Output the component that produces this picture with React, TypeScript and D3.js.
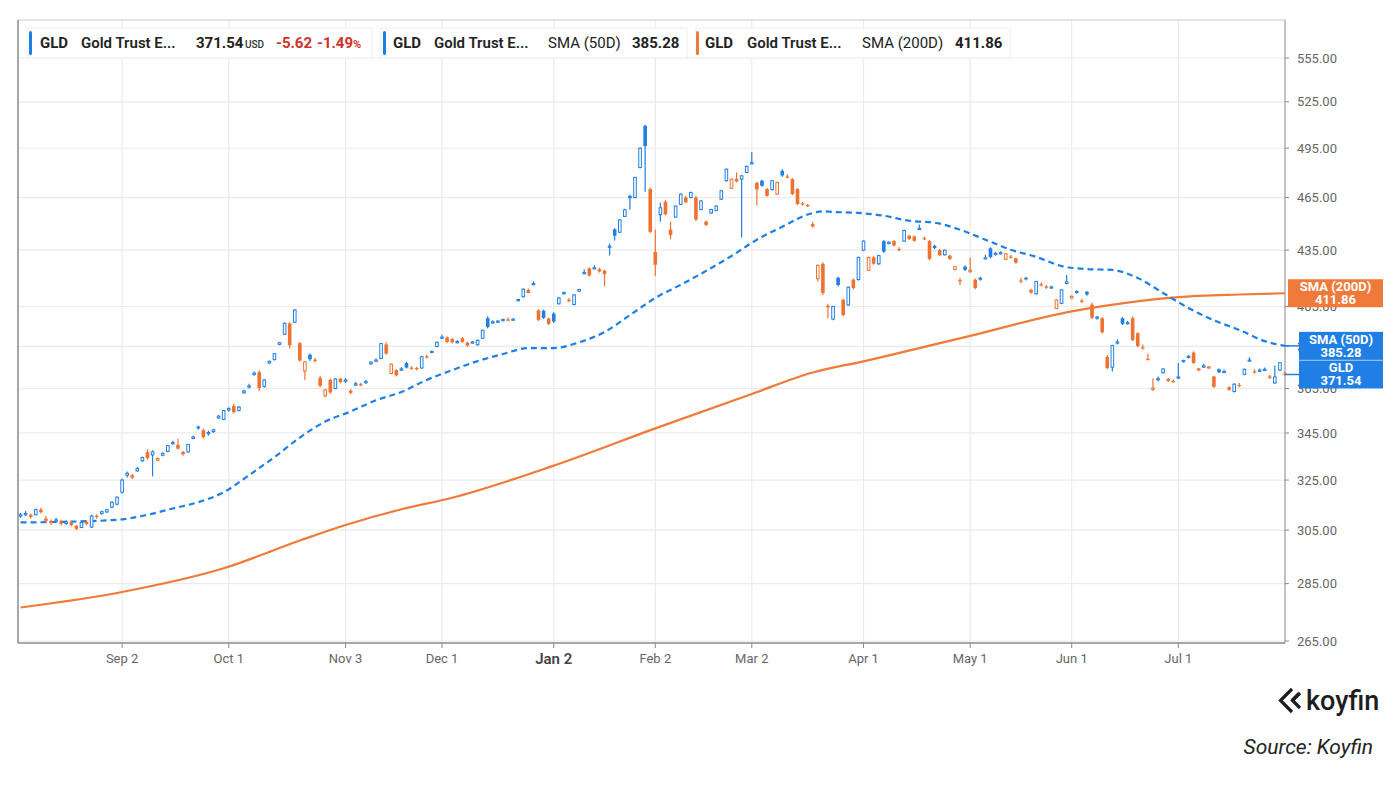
import * as d3 from "d3";

// plot frame (pixels)
const W = 1400;
const H = 791;
const left = 18;
const right = 1285;
const top = 20;
const bottom = 643;

const BLUE = "#1f7fe5";
const ORANGE = "#f0722f";
const SMA200_COLOR = "#f07a3a";
const RED = "#d0312d";

// US market holidays inside the window
const holidays = [
  "2025-09-01", "2025-11-27", "2025-12-25", "2026-01-01", "2026-01-19",
  "2026-02-16", "2026-04-03", "2026-05-25", "2026-06-19", "2026-07-03"
];

// daily candles [open, high, low, close], one array per month
const aug25 = [
  [310.5, 311.8, 309.8, 311], [311, 312.5, 310.5, 311.5], [311, 311.5, 309.5, 310.2],
  [311, 313.5, 310.8, 313], [313, 313.8, 311.5, 312], [309.5, 310.5, 307.8, 308.6],
  [308.6, 309.2, 307, 307.8], [308.5, 309.8, 307.8, 309], [308.5, 309, 306.8, 307.5],
  [307.6, 308.8, 307, 308.2], [308, 308.5, 306.5, 307], [306.7, 307, 305, 305.5],
  [306, 308.5, 305.8, 308], [308.2, 308.8, 307, 307.4], [306.2, 311, 305.8, 310.5],
  [310.6, 311.2, 309.4, 310.2], [311.5, 312.6, 311, 312.2], [312.1, 313.3, 311.8, 313],
  [314, 316.3, 313.6, 316], [315.2, 318.3, 314.8, 318]
];
const sep25 = [
  [320, 325.5, 319.5, 325], [327, 328.5, 326, 327.8], [327, 327.5, 325.4, 326],
  [328.8, 330.4, 328.4, 329.8], [333, 334.8, 332.6, 334.4], [336.7, 338, 333.5, 334.2],
  [335.5, 337.5, 326.5, 336.8], [333.2, 334.4, 332.8, 334], [335.4, 336.6, 335, 336.2],
  [337, 339.8, 336.8, 339.5], [340.4, 341.6, 340, 340.8], [339.8, 342.5, 337.8, 338.2],
  [336.8, 337.2, 335.2, 335.8], [336.8, 340.2, 336.5, 340], [342.6, 343.8, 342.2, 343.2],
  [347.8, 348.2, 346.4, 347], [346.2, 346.8, 342.6, 343.2], [344.8, 346, 343.8, 345.2],
  [345.6, 346.8, 345, 346.4], [351.6, 353, 351.2, 352.4], [351, 355.2, 350.6, 355]
];
const oct25 = [
  [355.2, 356.4, 354.4, 355.8], [357, 358, 353.6, 354.2], [355, 357, 354.5, 356.5],
  [363, 364.4, 362.6, 363.8], [365.8, 367.2, 365, 366.2], [371.6, 373, 371, 372.2],
  [372.6, 373.4, 364, 365.2], [366, 369.4, 365.4, 369], [377, 378.2, 376.6, 377.8],
  [378.6, 381.8, 378.2, 381.5], [386, 387.2, 385.6, 386.8], [391, 396.8, 390.6, 396.5],
  [396.4, 397, 384, 385.6], [397, 403.6, 396.6, 403.2], [386.6, 387.2, 377.6, 378.2],
  [373.2, 377.8, 369, 377.5], [381, 381.6, 378, 378.8], [378.6, 379.4, 377.4, 378],
  [370, 371, 365.6, 366.2], [361.6, 364.8, 361, 364.4], [369, 369.6, 362.6, 363.2],
  [365, 369.8, 364.6, 369.4], [369.6, 370, 367.4, 368]
];
const nov25 = [
  [368.4, 369.8, 367.6, 369], [364, 364.6, 362.4, 363], [366.6, 368, 366, 367.2],
  [367, 367.6, 366, 366.6], [367.8, 369, 367.2, 368.2], [376.6, 377.8, 376.2, 377.4],
  [378, 379.2, 377.6, 378.4], [379.2, 386.6, 378.8, 386.4], [386, 387, 381, 381.6],
  [372, 376.8, 371.6, 376.4], [373.6, 374, 370.6, 371.2], [373.6, 375, 373.2, 374.2],
  [377, 377.6, 374.4, 374.8], [374.8, 375.4, 373.8, 374.4], [374.6, 375.2, 373.6, 374.2],
  [374.6, 380.4, 374.2, 380], [380.2, 381, 379.2, 379.8], [382.2, 383, 381.8, 382.6],
  [385, 387.4, 384.6, 387]
];
const dec25 = [
  [389, 390.8, 388.6, 389.6], [389.4, 390, 386.6, 387.2], [388.6, 389.2, 386.4, 387],
  [387, 388.2, 386.4, 387.4], [389, 389.6, 386.8, 387.2], [386.8, 387.4, 384.8, 385.4],
  [386.8, 387.6, 386.4, 387.2], [385.8, 388.4, 385.4, 388], [389, 393.2, 388.6, 393],
  [399, 400, 394, 394.6], [396.6, 398, 396.2, 397.2], [397, 398, 396.6, 397.6],
  [397.8, 398.8, 397.4, 398.4], [398.4, 399.4, 397.4, 398], [398, 399, 397.6, 398.6],
  [408, 409, 407.6, 408.6], [410, 414.4, 409.6, 414], [413.6, 414.4, 411.8, 412],
  [416.6, 418.2, 416, 417], [403, 403.6, 397.6, 398.2], [402.8, 403.4, 398.6, 399.2],
  [398.8, 399.4, 395.6, 396.2]
];
const jan26 = [
  [401.4, 402, 396.6, 397.4], [406.4, 409.8, 406, 409.4], [411.6, 412.8, 411.2, 412.2],
  [408.4, 409.4, 407.2, 408], [406, 411.4, 405.6, 411], [413, 414.2, 412.6, 413.8],
  [422.4, 424.6, 422, 422.8], [425, 425.6, 420.6, 421.2], [425, 426.8, 424.6, 425.4],
  [424.6, 425.4, 422.8, 423.4], [423.8, 424.4, 415.6, 422], [436.6, 438.6, 432, 437.2],
  [446.6, 447.2, 440.4, 443], [445, 452.4, 444.6, 452], [454, 458.4, 453.6, 457.8],
  [466, 466.6, 458, 464.6], [465, 477.4, 464.6, 477], [483, 495.4, 482.6, 495],
  [509.2, 510, 468.4, 496.4], [470, 471, 444.6, 445.2]
];
const feb26 = [
  [434, 446.5, 421, 427], [455, 462, 451, 459], [462.5, 463.5, 454.6, 455.2],
  [446.5, 451, 441, 443.4], [453.6, 460.4, 453.2, 460], [461, 467.4, 460.6, 467],
  [465, 466, 461.6, 462.2], [465, 468.4, 464.6, 468], [465, 466, 451.4, 452.2],
  [458, 463.4, 457.6, 463], [451, 451.6, 448.4, 449.2], [456, 458.4, 455.6, 458],
  [457.5, 460.4, 457, 460], [464, 469.4, 463.6, 469], [475, 482.4, 474.6, 482],
  [470.5, 476.4, 470, 476], [476.2, 480, 474, 474.6], [476, 478.4, 442, 478],
  [480, 484.2, 479.6, 483.8]
];
const mar26 = [
  [485.6, 492.6, 485, 486], [473.7, 474.4, 460.4, 469.8], [475, 475.6, 471.4, 472],
  [470, 470.6, 465.4, 466], [469.7, 475.4, 469.2, 475], [467, 474.4, 466.6, 474],
  [481, 482, 477.4, 478.2], [477.6, 479, 476.4, 477], [476, 476.6, 466.4, 467],
  [470, 470.6, 460.6, 461.2], [461.6, 462.4, 460.4, 461], [460.6, 461.4, 459.4, 460],
  [449.6, 451, 447.6, 448.2], [419.5, 427, 418, 426.7], [427.5, 428.4, 411, 412],
  [405.4, 406.4, 399, 404.6], [398.6, 405.4, 398, 405], [420, 420.6, 415.4, 416.2],
  [408.5, 409, 400, 400.6], [405.8, 415.4, 405.4, 415], [419, 419.6, 414, 414.6],
  [419, 431.4, 418.6, 431]
];
const apr26 = [
  [435, 440.4, 434.6, 440], [424, 431.4, 423.6, 431], [431, 431.6, 427, 427.6],
  [427.5, 432.4, 427, 432], [440, 440.6, 433.4, 434.2], [438.6, 439.8, 438.2, 439.4],
  [440, 440.6, 437, 437.6], [435.6, 436.6, 434.4, 435.2], [440, 446.4, 439.6, 446],
  [443, 443.6, 440.6, 441.2], [442.6, 443.2, 439.6, 440.2], [446.8, 449.4, 446.4, 447.2],
  [441.6, 442.6, 440.6, 441.2], [440, 440.6, 429.4, 430.2], [437.4, 438, 435.6, 436.2],
  [435, 435.6, 431.6, 432.2], [432.4, 435.4, 432, 435], [432, 432.6, 429.6, 430.2],
  [424.4, 426.4, 424, 426], [418.8, 420, 416, 418.4], [426, 426.6, 423.6, 424.2]
];
const may26 = [
  [423.2, 431, 422.8, 424], [419, 419.6, 414, 414.6], [420, 420.6, 418.4, 419],
  [430.4, 432.4, 430, 430.8], [436, 436.6, 430.6, 431.2], [432.6, 434, 432, 433.2],
  [433.2, 434.4, 432.6, 433.6], [430, 433.4, 429.6, 433], [431.4, 432.4, 430.4, 431],
  [430.5, 431, 427.6, 428.2], [418.6, 420, 417, 418.2], [420, 420.6, 418.6, 419.2],
  [413.6, 414.2, 411.6, 412.2], [411.6, 418.4, 411.2, 418], [416.6, 417.6, 415.4, 416],
  [415.4, 416.2, 414.2, 414.8], [414.8, 415.8, 414.2, 415.2], [404, 408.8, 403.6, 408.4],
  [406.6, 414, 406.2, 413.6], [417, 421.5, 416.6, 417.8]
];
const jun26 = [
  [409.4, 410.8, 409, 410.2], [413, 413.4, 411.6, 412], [408, 409, 406.8, 407.6],
  [412.6, 413, 410.6, 411.2], [406, 407, 398.6, 399.2], [399, 400.2, 398.2, 399.6],
  [399, 399.6, 391.4, 392], [380, 380.8, 374, 374.6], [375, 385.8, 373, 385.4],
  [386.6, 388.4, 386, 387.2], [399, 399.6, 395.6, 396.2], [396.4, 397.6, 395.8, 396.8],
  [399, 400, 387.6, 388.2], [391.5, 392, 384.6, 385.2], [384.6, 386, 383.4, 384],
  [379, 381.4, 378.2, 378.6], [364.6, 369.6, 363.8, 365.2], [369.2, 370.6, 368.4, 369.6],
  [372.4, 374.4, 372, 374.2], [369.4, 370, 368, 368.6], [368.6, 369.2, 367.6, 368]
];
const jul26 = [
  [370, 377, 369.4, 370.4], [377.6, 378.6, 377.2, 378.2], [379.8, 380.8, 379.2, 380.2],
  [382, 382.6, 376.6, 377], [373.6, 374.6, 373.2, 374.2], [375.2, 376.6, 374.6, 375.6],
  [374.6, 375.6, 374.2, 375.2], [370.6, 371, 365.2, 365.8], [374, 374.4, 372.2, 372.6],
  [372.6, 373.8, 372.2, 373], [365.6, 366, 364, 364.4], [363.6, 367.4, 363.2, 367],
  [366.6, 367.6, 365.6, 366.2], [371.6, 374.4, 371.2, 374], [378.2, 379.8, 378, 378.4],
  [373, 374, 372, 372.6], [373.2, 374.4, 372.8, 373.6], [373.6, 374.8, 373.2, 374],
  [370.6, 371.4, 369.4, 370], [367.6, 375.8, 367.2, 370.4], [373.6, 377.4, 373.2, 377.16],
  [372, 372.8, 370.8, 371.54]
];

// moving averages, keyed by trading-day number
const sma50Day = [0, 10, 20, 25, 30, 35, 40, 45, 50, 55, 60, 65, 70, 75, 80, 85, 90, 95, 100, 105,
  110, 115, 120, 125, 130, 135, 140, 145, 150, 155, 158, 160, 165, 170, 175, 180, 185, 190, 195, 200,
  205, 210, 215, 220, 225, 230, 235, 240, 245, 249];
const sma50Val = [308, 308.3, 309.2, 311, 313.5, 316, 320, 327, 334.6, 343, 350, 354.5, 359.6, 363.4, 369, 373.6, 377.9, 381.3, 384.2, 384.2,
  387, 392.1, 400.6, 409.4, 416.3, 423.7, 431.8, 440.8, 448.1, 455.1, 456.9, 456.6, 456, 454.4, 451.5, 450.4, 446.4, 440.8, 435.2, 431.3,
  426.3, 424.7, 424.2, 419.9, 412, 404.2, 398, 393.1, 387.6, 385.28];
const sma200Day = [0, 20, 40, 55, 64, 75, 85, 105, 125, 144, 156, 166, 187, 207, 218, 228, 240, 249];
const sma200Val = [276.5, 282, 290.6, 301, 307, 313.2, 317.8, 331, 347, 362.5, 372.5, 377.8, 390.2, 402.5, 407, 409.8, 411.2, 411.86];

const xTickDates = ["2025-09-02", "2025-10-01", "2025-11-03", "2025-12-01", "2026-01-02", "2026-02-02",
  "2026-03-02", "2026-04-01", "2026-05-01", "2026-06-01", "2026-07-01"];
const xTickLabels = ["Sep 2", "Oct 1", "Nov 3", "Dec 1", "Jan 2", "Feb 2", "Mar 2", "Apr 1", "May 1", "Jun 1", "Jul 1"];
const yTicks = [265, 285, 305, 325, 345, 365, 385, 405, 435, 465, 495, 525, 555];

const FONT = "Roboto, 'Noto Sans', sans-serif";

export default function App() {
  const fmt = d3.utcFormat("%Y-%m-%d");
  const days = d3
    .utcDays(new Date(Date.UTC(2025, 7, 4)), new Date(Date.UTC(2026, 7, 1)))
    .filter(d => d.getUTCDay() !== 0 && d.getUTCDay() !== 6 && !holidays.includes(fmt(d)))
    .map(fmt);

  const rows = [...aug25, ...sep25, ...oct25, ...nov25, ...dec25, ...jan26,
    ...feb26, ...mar26, ...apr26, ...may26, ...jun26, ...jul26];
  const candles = rows.map(([o, h, l, c], i) => ({
    i, o, h, l, c,
    prev: i > 0 ? rows[i - 1][3] : o
  }));

  const x = d3.scaleLinear().domain([-0.5, 249]).range([left, right]);
  const y = d3.scaleLog().domain([265, 555]).range([641, 58]);

  const line = d3
    .line<[number, number]>()
    .x(d => x(d[0]))
    .y(d => y(d[1]))
    .curve(d3.curveMonotoneX);

  const sma50 = sma50Day.map((d, k) => [d, sma50Val[k]] as [number, number]);
  const sma200 = sma200Day.map((d, k) => [d, sma200Val[k]] as [number, number]);

  const xTicks = xTickDates.map((d, k) => ({ i: days.indexOf(d), label: xTickLabels[k] }));

  const bw = 3.6;
  const last = candles[candles.length - 1];

  const sideLabels = [
    { v: sma200Val[sma200Val.length - 1], t: "SMA (200D)", c: SMA200_COLOR, x0: 1288 },
    { v: sma50Val[sma50Val.length - 1], t: "SMA (50D)", c: BLUE, x0: 1299 },
    { v: last.c, t: "GLD", c: BLUE, x0: 1299 }
  ];

  return (
    <svg
      width={W}
      height={H}
      style={{ position: "absolute", left: 0, top: 0, background: "#fff", fontFamily: FONT }}
    >
      <rect width={W} height={H} fill="#fff" />

      {/* grid */}
      <g stroke="#ebebeb" strokeWidth={1.2}>
        {yTicks.map(t => (
          <line key={t} x1={left} x2={right} y1={y(t)} y2={y(t)} />
        ))}
        {xTicks.map(t => (
          <line key={t.label} x1={x(t.i)} x2={x(t.i)} y1={top} y2={bottom} />
        ))}
      </g>

      {/* frame */}
      <line x1={left} x2={right} y1={top} y2={top} stroke="#c8c8c8" />
      <line x1={left} x2={left} y1={top} y2={bottom} stroke="#8a8a8a" strokeWidth={1.5} />
      <line x1={left} x2={right} y1={bottom} y2={bottom} stroke="#8a8a8a" strokeWidth={1.5} />
      <line x1={right} x2={right} y1={top} y2={bottom} stroke="#9a9a9a" strokeWidth={1.2} />

      {/* x axis */}
      {xTicks.map(t => (
        <g key={t.label} transform={`translate(${x(t.i)},${bottom})`}>
          <line y1={0} y2={5} stroke="#8a8a8a" />
          <text
            y={t.label === "Jan 2" ? 21 : 20}
            textAnchor="middle"
            fontSize={t.label === "Jan 2" ? 15 : 13}
            fontWeight={t.label === "Jan 2" ? 600 : 400}
            fill={t.label === "Jan 2" ? "#444" : "#666"}
          >
            {t.label}
          </text>
        </g>
      ))}

      {/* y axis */}
      {yTicks.map(t => (
        <g key={t} transform={`translate(${right},${y(t)})`}>
          <line x1={0} x2={4} stroke="#8a8a8a" />
          <text x={12} dy="0.35em" fontSize={13} fill="#666">
            {t.toFixed(2)}
          </text>
        </g>
      ))}

      {/* moving averages */}
      <path d={line(sma200) || undefined} fill="none" stroke={SMA200_COLOR} strokeWidth={2.2} />
      <path
        d={line(sma50) || undefined}
        fill="none"
        stroke={BLUE}
        strokeWidth={2.2}
        strokeDasharray="6,4"
      />

      {/* candles */}
      <g>
        {candles.map(d => {
          const col = d.c >= d.prev ? BLUE : ORANGE;
          const hollow = d.c > d.o;
          const yt = y(Math.max(d.o, d.c));
          const yb = y(Math.min(d.o, d.c));
          const bh = Math.max(1.2, yb - yt);
          const cx = x(d.i);
          return (
            <g key={d.i}>
              <line x1={cx} x2={cx} y1={y(d.h)} y2={y(d.l)} stroke={col} strokeWidth={1.2} />
              {hollow ? (
                <rect
                  x={cx - bw / 2 + 0.5}
                  y={yt}
                  width={bw - 1}
                  height={Math.max(1, bh)}
                  fill="#fff"
                  stroke={col}
                  strokeWidth={1}
                />
              ) : (
                <rect x={cx - bw / 2} y={yt} width={bw} height={bh} fill={col} />
              )}
            </g>
          );
        })}
      </g>

      {/* legend */}
      <g fontSize={15}>
        <rect x={27} y={28} width={345} height={30} fill="#fff" stroke="#efefef" />
        <rect x={29} y={31} width={3} height={24} rx={1.5} fill={BLUE} />
        <text x={40} y={48} fontWeight={700} fill="#222">GLD</text>
        <text x={81} y={48} fontWeight={600} fill="#222">Gold Trust E...</text>
        <text x={196} y={48} fontWeight={700} fill="#222">{last.c.toFixed(2)}</text>
        <text x={245} y={48} fontSize={10} fontWeight={500} fill="#333">USD</text>
        <text x={276} y={48} fontWeight={700} fill={RED}>
          {(last.c - last.prev).toFixed(2)}
        </text>
        <text x={317} y={48} fontWeight={700} fill={RED}>
          {(((last.c - last.prev) / last.prev) * 100).toFixed(2)}
          <tspan fontSize={11}>%</tspan>
        </text>

        <rect x={381} y={28} width={306} height={30} fill="#fff" stroke="#efefef" />
        <rect x={383} y={31} width={3} height={24} rx={1.5} fill={BLUE} />
        <text x={393} y={48} fontWeight={700} fill="#222">GLD</text>
        <text x={434} y={48} fontWeight={600} fill="#222">Gold Trust E...</text>
        <text x={548} y={48} fontWeight={400} fill="#222">SMA (50D)</text>
        <text x={632} y={48} fontWeight={700} fill="#222">{sma50Val[sma50Val.length - 1].toFixed(2)}</text>

        <rect x={696} y={28} width={314} height={30} fill="#fff" stroke="#efefef" />
        <rect x={696} y={31} width={3} height={24} rx={1.5} fill={SMA200_COLOR} />
        <text x={705} y={48} fontWeight={700} fill="#222">GLD</text>
        <text x={747} y={48} fontWeight={600} fill="#222">Gold Trust E...</text>
        <text x={862} y={48} fontWeight={400} fill="#222">SMA (200D)</text>
        <text x={955} y={48} fontWeight={700} fill="#222">{sma200Val[sma200Val.length - 1].toFixed(2)}</text>
      </g>

      {/* last-value labels on the price axis */}
      {sideLabels.map(s => {
        const cy = y(s.v);
        return (
          <g key={s.t}>
            {s.x0 > right + 5 && (
              <path
                d={`M${right},${cy} L${s.x0},${cy}`}
                stroke={s.c}
                strokeWidth={1.5}
                fill="none"
              />
            )}
            <rect x={s.x0} y={cy - 14} width={1383 - s.x0} height={28} fill={s.c} />
            <text
              x={(s.x0 + 1383) / 2}
              y={cy - 2}
              textAnchor="middle"
              fontSize={13}
              fontWeight={700}
              fill="#fff"
            >
              {s.t}
            </text>
            <text
              x={(s.x0 + 1383) / 2}
              y={cy + 11}
              textAnchor="middle"
              fontSize={13}
              fontWeight={700}
              fill="#fff"
            >
              {s.v.toFixed(2)}
            </text>
          </g>
        );
      })}

      {/* koyfin mark */}
      <g fill="none" stroke="#1d1d1f" strokeWidth={3.2} strokeLinejoin="miter">
        <path d="M1292,689 L1280.5,700.5 L1292,712" />
        <path d="M1300,693 L1292.5,700.5 L1300,708" />
        <path d="M1292,700.5 L1299,693.5" />
      </g>
      <text x={1306} y={710} fontSize={27} fontWeight={500} fill="#1d1d1f">koyfin</text>
      <text x={1373} y={754} textAnchor="end" fontSize={21} fontStyle="italic" fill="#222">
        Source: Koyfin
      </text>
    </svg>
  );
}
